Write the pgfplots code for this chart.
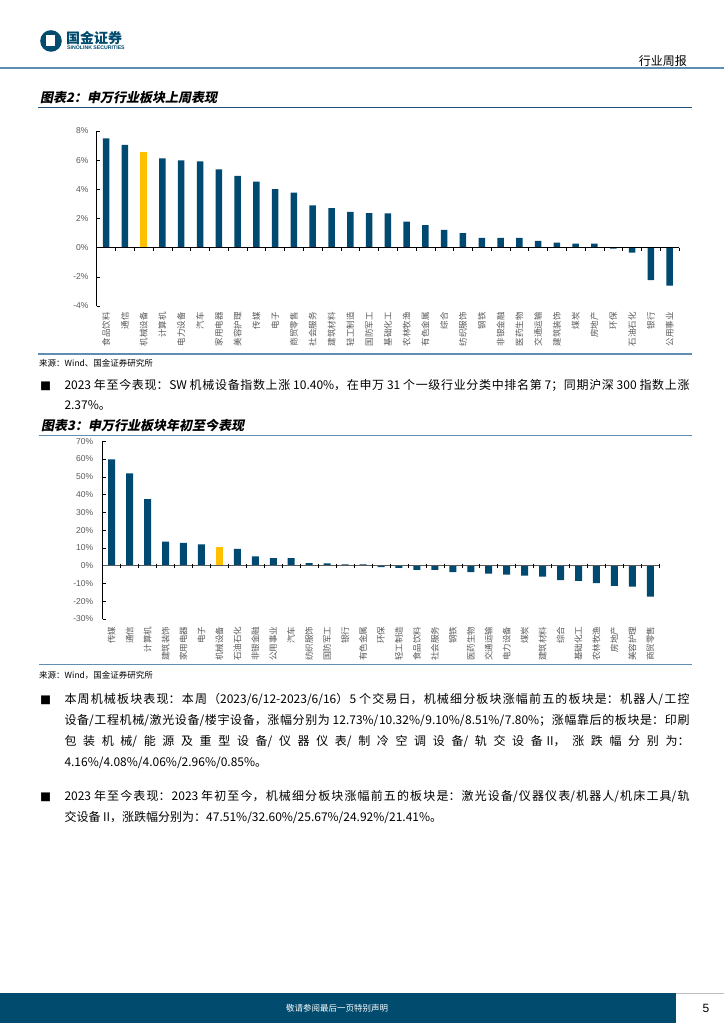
\documentclass[border=0pt]{standalone}
\usepackage{fontspec}
\setmainfont{Noto Sans CJK SC}
\newfontfamily\arial{Liberation Sans}
\newfontfamily\kai[FakeSlant=0.2]{Noto Sans CJK SC}
\usepackage{pgfplots}
\pgfplotsset{compat=1.18}
\XeTeXlinebreaklocale "zh"
\XeTeXlinebreakskip=0pt plus 8pt
\setlength{\parindent}{0pt}

\definecolor{barblue}{RGB}{0,73,112}
\definecolor{baryellow}{RGB}{255,192,0}
\definecolor{linelight}{RGB}{96,142,178}
\definecolor{linedark}{RGB}{31,78,121}
\definecolor{footblue}{RGB}{0,75,110}
\definecolor{labgray}{RGB}{89,89,89}

\pgfplotsset{
  swbars/.style={
    scale only axis,
    axis y line*=left,
    axis x line*=bottom,
    x axis line style={draw=none},
    y axis line style={black, line width=0.8pt},
    xmin=-0.5, xmax=30.5,
    xtick={0,...,30},
    xtick style={draw=none},
    ytick style={black, line width=0.6pt},
    major tick length=3pt,
    tick align=inside,
    xticklabel style={rotate=90, anchor=east, inner ysep=0pt,
      font=\fontsize{8.5}{9}\selectfont, text=labgray},
    yticklabel style={anchor=east, inner sep=0pt,
      font=\arial\fontsize{8.5}{9}\selectfont, text=labgray},
    yticklabel={\pgfmathprintnumber{\tick}\%},
    /pgf/number format/assume math mode=true,
    clip=false,
  }
}

\newcommand{\body}{\fontsize{12}{20.7}\selectfont}

\begin{document}
\begin{tikzpicture}[x=1pt,y=1pt]
\fill[white] (0,0) rectangle (724,1024);
\path[use as bounding box] (0,0) rectangle (724,1024);

% header
\fill[footblue] (51,983) circle (10.8);
\fill[white] (46,977.5) rectangle (55,989);
\node[anchor=west, inner sep=0pt, text=footblue, font=\bfseries\fontsize{14}{14}\selectfont] at (66,986) {国金证券};
\node[anchor=west, inner sep=0pt, text=footblue, font=\arial\bfseries\fontsize{5.2}{5.2}\selectfont] at (67,976) {SINOLINK SECURITIES};
\node[anchor=east, inner sep=0pt, font=\fontsize{12}{12}\selectfont] at (687,963) {行业周报};
\draw[linelight, line width=2pt] (0,955.7) -- (724,955.7);

% chart 2 title
\node[anchor=west, inner sep=0pt, font=\kai\bfseries\fontsize{13}{13}\selectfont] at (40,926.8) {图表2：申万行业板块上周表现};
\draw[linedark, line width=1.2pt] (38,916.7) -- (692,916.7);

\begin{axis}[swbars,
  at={(96.7pt,718pt)}, anchor=south west,
  width=582.3pt, height=175pt,
  ymin=-4, ymax=8, ytick={-4,-2,...,8},
  xticklabel style={inner xsep=6pt},
  yticklabel style={xshift=-8pt},
  xticklabels={食品饮料,通信,机械设备,计算机,电力设备,汽车,家用电器,美容护理,传媒,电子,商贸零售,社会服务,建筑材料,轻工制造,国防军工,基础化工,农林牧渔,有色金属,综合,纺织服饰,钢铁,非银金融,医药生物,交通运输,建筑装饰,煤炭,房地产,环保,石油石化,银行,公用事业},
]
\addplot[ybar, bar width=6.5pt, bar shift=0pt, fill=barblue, draw=none] coordinates {
  (0,7.49) (1,7.05) (3,6.12) (4,5.98) (5,5.91) (6,5.36) (7,4.92) (8,4.53)
  (9,4.02) (10,3.77) (11,2.90) (12,2.71) (13,2.46) (14,2.37) (15,2.35)
  (16,1.79) (17,1.54) (18,1.22) (19,0.99) (20,0.67) (21,0.67) (22,0.67)
  (23,0.46) (24,0.34) (25,0.28) (26,0.28) (27,-0.07) (28,-0.34) (29,-2.23) (30,-2.60)
};
\addplot[ybar, bar width=6.5pt, bar shift=0pt, fill=baryellow, draw=none] coordinates {(2,6.53)};
\draw[black, line width=0.8pt] (axis cs:-0.5,0) -- (axis cs:30.5,0);
\pgfplotsinvokeforeach{0,...,31}{\draw[black, line width=0.6pt] (axis cs:#1-0.5,0) -- ++(0pt,-3pt);}
\end{axis}

\draw[linelight, line width=1.5pt] (38,670) -- (692,670);
\node[anchor=west, inner sep=0pt, font=\fontsize{8.5}{9}\selectfont] at (39,660.7) {来源：Wind、国金证券研究所};

% bullet 1
\node[anchor=west, inner sep=0pt, font=\fontsize{11}{11}\selectfont] at (40,638) {■};
\node[anchor=north west, inner sep=0pt, text width=625pt, align=justify, font=\fontsize{12}{20}\selectfont] at (64.3,644.5)
  {2023 年至今表现：SW 机械设备指数上涨 10.40\%，在申万 31 个一级行业分类中排名第 7；同期沪深 300 指数上涨\linebreak 2.37\%。};

% chart 3 title
\node[anchor=west, inner sep=0pt, font=\kai\bfseries\fontsize{13}{13}\selectfont] at (41,598.3) {图表3：申万行业板块年初至今表现};
\draw[linelight, line width=1.5pt] (39,588.3) -- (692,588.3);

\begin{axis}[swbars,
  at={(102.7pt,405pt)}, anchor=south west,
  width=556.6pt, height=177.7pt,
  ymin=-30, ymax=70, ytick={-30,-20,...,70},
  xticklabel style={inner xsep=7.7pt},
  yticklabel style={xshift=-9.4pt},
  xticklabels={传媒,通信,计算机,建筑装饰,家用电器,电子,机械设备,石油石化,非银金融,公用事业,汽车,纺织服饰,国防军工,银行,有色金属,环保,轻工制造,食品饮料,社会服务,钢铁,医药生物,交通运输,电力设备,煤炭,建筑材料,综合,基础化工,农林牧渔,房地产,美容护理,商贸零售},
]
\addplot[ybar, bar width=7pt, bar shift=0pt, fill=barblue, draw=none] coordinates {
  (0,59.8) (1,52.0) (2,37.5) (3,13.5) (4,12.8) (5,12.0) (7,9.4) (8,5.2)
  (9,4.3) (10,4.3) (11,1.5) (12,1.3) (13,0.8) (14,0.8) (15,-0.8) (16,-1.3)
  (17,-2.4) (18,-2.4) (19,-3.6) (20,-3.6) (21,-4.5) (22,-5.1) (23,-5.6)
  (24,-6.2) (25,-8.1) (26,-8.6) (27,-9.8) (28,-11.3) (29,-11.8) (30,-17.4)
};
\addplot[ybar, bar width=7pt, bar shift=0pt, fill=baryellow, draw=none] coordinates {(6,10.4)};
\draw[black!65, line width=1.2pt] (axis cs:-0.5,0) -- (axis cs:30.5,0);
\pgfplotsinvokeforeach{0,...,31}{\draw[black, line width=0.6pt] (axis cs:#1-0.5,0) ++(0pt,2pt) -- ++(0pt,-4pt);}
\end{axis}

\draw[linelight, line width=1.5pt] (39,359.5) -- (692,359.5);
\node[anchor=west, inner sep=0pt, font=\fontsize{8.5}{9}\selectfont] at (39,349) {来源：Wind，国金证券研究所};

% paragraph 1
\node[anchor=west, inner sep=0pt, font=\fontsize{11}{11}\selectfont] at (40,324) {■};
\node[anchor=north west, inner sep=0pt, text width=625pt, align=justify, font=\body] at (64.3,330.5)
  {本周机械板块表现：本周（2023/6/12-2023/6/16）5 个交易日，机械细分板块涨幅前五的板块是：机器人/工控\linebreak 设备/工程机械/激光设备/楼宇设备，涨幅分别为 12.73\%/10.32\%/9.10\%/8.51\%/7.80\%；涨幅靠后的板块是：印刷\linebreak 包装机械/能源及重型设备/仪器仪表/制冷空调设备/轨交设备 II，涨跌幅分别为：\linebreak 4.16\%/4.08\%/4.06\%/2.96\%/0.85\%。};

% paragraph 2
\node[anchor=west, inner sep=0pt, font=\fontsize{11}{11}\selectfont] at (40,227) {■};
\node[anchor=north west, inner sep=0pt, text width=625pt, align=justify, font=\body] at (64.3,233.5)
  {2023 年至今表现：2023 年初至今，机械细分板块涨幅前五的板块是：激光设备/仪器仪表/机器人/机床工具/轨\linebreak 交设备 II，涨跌幅分别为：47.51\%/32.60\%/25.67\%/24.92\%/21.41\%。};

% footer
\draw[black!25, line width=0.8pt] (0,31) -- (724,31);
\fill[footblue] (0,1) rectangle (676,31);
\node[inner sep=0pt, text=white, font=\fontsize{8.5}{9}\selectfont] at (337,16) {敬请参阅最后一页特别声明};
\node[inner sep=0pt, font=\arial\fontsize{12}{12}\selectfont] at (706,16) {5};
\end{tikzpicture}
\end{document}
